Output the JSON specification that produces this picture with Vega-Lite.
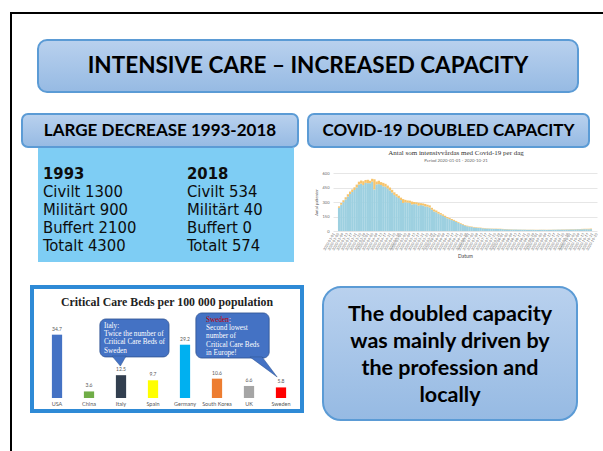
{
  "$schema": "https://vega.github.io/schema/vega-lite/v6.json",
  "padding": {"left": 10, "top": 12, "right": 0, "bottom": 0},
  "background": "white",
  "config": {
    "view": {"stroke": null},
    "concat": {"spacing": 0},
    "font": "Lato"
  },
  "resolve": {"scale": {"x": "independent", "y": "independent", "color": "independent"}},
  "vconcat": [
    {"width": 600, "height": 2, "view": {"fill": "#000000"}, "data": {"values": []}, "mark": "text"},
    {
      "bounds": "flush",
      "resolve": {"scale": {"x": "independent", "y": "independent", "color": "independent"}},
      "hconcat": [
        {"width": 2, "height": 440, "view": {"fill": "#000000"}, "data": {"values": []}, "mark": "text"},
        {
          "resolve": {"scale": {"x": "independent", "y": "independent", "color": "independent"}},
          "vconcat": [
            {"width": 1, "height": 25, "data": {"values": []}, "mark": "text"},
            {
              "bounds": "flush",
              "resolve": {"scale": {"x": "independent", "y": "independent", "color": "independent"}},
              "hconcat": [
                {"width": 26, "height": 1, "data": {"values": []}, "mark": "text"},
                {
                  "width": 540, "height": 52,
                  "data": {"values": [{"t": "INTENSIVE CARE – INCREASED CAPACITY"}]},
                  "layer": [
                    {"mark": {"type": "rect", "cornerRadius": 9, "stroke": "#5b9bd5", "strokeWidth": 2,
                      "fill": {"gradient": "linear", "x1": 0, "y1": 0, "x2": 0, "y2": 1, "stops": [{"offset": 0, "color": "#b9d1ee"}, {"offset": 1, "color": "#96bae3"}]}},
                     "encoding": {"x": {"value": 0}, "x2": {"value": "width"}, "y": {"value": 0}, "y2": {"value": "height"}}},
                    {"mark": {"type": "text", "font": "Lato", "fontWeight": "bold", "fontSize": 22.5, "color": "#000000", "align": "center", "baseline": "middle"},
                     "encoding": {"text": {"field": "t"},
                       "x": {"datum": 0, "type": "quantitative", "scale": {"domain": [-1, 1]}, "axis": null},
                       "y": {"datum": 0, "type": "quantitative", "scale": {"domain": [-1, 1]}, "axis": null}}}
                  ]
                }
              ]
            },
            {"width": 1, "height": 20, "data": {"values": []}, "mark": "text"},
            {
              "bounds": "flush",
              "resolve": {"scale": {"x": "independent", "y": "independent", "color": "independent"}},
              "hconcat": [
                {"width": 10, "height": 1, "data": {"values": []}, "mark": "text"},
                {
                  "width": 276, "height": 33,
                  "data": {"values": [{"t": "LARGE DECREASE 1993-2018"}]},
                  "layer": [
                    {"mark": {"type": "rect", "cornerRadius": 6, "stroke": "#5b9bd5", "strokeWidth": 2,
                      "fill": {"gradient": "linear", "x1": 0, "y1": 0, "x2": 0, "y2": 1, "stops": [{"offset": 0, "color": "#b9d1ee"}, {"offset": 1, "color": "#96bae3"}]}},
                     "encoding": {"x": {"value": 0}, "x2": {"value": "width"}, "y": {"value": 0}, "y2": {"value": "height"}}},
                    {"mark": {"type": "text", "font": "Lato", "fontWeight": "bold", "fontSize": 17, "color": "#000000", "align": "center", "baseline": "middle"},
                     "encoding": {"text": {"field": "t"},
                       "x": {"datum": 0, "type": "quantitative", "scale": {"domain": [-1, 1]}, "axis": null},
                       "y": {"datum": 0, "type": "quantitative", "scale": {"domain": [-1, 1]}, "axis": null}}}
                  ]
                },
                {"width": 10, "height": 1, "data": {"values": []}, "mark": "text"},
                {
                  "width": 281, "height": 33,
                  "data": {"values": [{"t": "COVID-19 DOUBLED CAPACITY"}]},
                  "layer": [
                    {"mark": {"type": "rect", "cornerRadius": 6, "stroke": "#5b9bd5", "strokeWidth": 2,
                      "fill": {"gradient": "linear", "x1": 0, "y1": 0, "x2": 0, "y2": 1, "stops": [{"offset": 0, "color": "#b9d1ee"}, {"offset": 1, "color": "#96bae3"}]}},
                     "encoding": {"x": {"value": 0}, "x2": {"value": "width"}, "y": {"value": 0}, "y2": {"value": "height"}}},
                    {"mark": {"type": "text", "font": "Lato", "fontWeight": "bold", "fontSize": 17, "color": "#000000", "align": "center", "baseline": "middle"},
                     "encoding": {"text": {"field": "t"},
                       "x": {"datum": 0, "type": "quantitative", "scale": {"domain": [-1, 1]}, "axis": null},
                       "y": {"datum": 0, "type": "quantitative", "scale": {"domain": [-1, 1]}, "axis": null}}}
                  ]
                }
              ]
            },
            {
              "bounds": "flush",
              "resolve": {"scale": {"x": "independent", "y": "independent", "color": "independent"}},
              "hconcat": [
                {"width": 26, "height": 1, "data": {"values": []}, "mark": "text"},
                {
                  "width": 256, "height": 114,
                  "view": {"fill": "#7ecdf4"},
                  "data": {"values": [
                    {"year": "1993", "item": "Civilt", "value": 1300},
                    {"year": "1993", "item": "Militärt", "value": 900},
                    {"year": "1993", "item": "Buffert", "value": 2100},
                    {"year": "1993", "item": "Totalt", "value": 4300},
                    {"year": "2018", "item": "Civilt", "value": 534},
                    {"year": "2018", "item": "Militärt", "value": 40},
                    {"year": "2018", "item": "Buffert", "value": 0},
                    {"year": "2018", "item": "Totalt", "value": 574}
                  ]},
                  "encoding": {
                    "x": {"field": "year", "type": "nominal", "scale": {"type": "point", "domain": ["1993", "2018"], "range": [5, 149], "padding": 0}, "axis": null}
                  },
                  "layer": [
                    {
                      "transform": [{"calculate": "datum.item + ' ' + datum.value", "as": "label"}],
                      "mark": {"type": "text", "font": "DejaVu Sans Condensed", "fontSize": 16.5, "color": "#0d0d0d", "align": "left", "baseline": "middle"},
                      "encoding": {
                        "y": {"field": "item", "type": "nominal", "scale": {"type": "point", "domain": ["head", "Civilt", "Militärt", "Buffert", "Totalt"], "range": [26, 98], "padding": 0}, "axis": null},
                        "text": {"field": "label"}
                      }
                    },
                    {
                      "transform": [{"filter": "datum.item === 'Civilt'"}],
                      "mark": {"type": "text", "font": "DejaVu Sans Condensed", "fontWeight": "bold", "fontSize": 16.5, "color": "#0d0d0d", "align": "left", "baseline": "middle"},
                      "encoding": {
                        "y": {"datum": "head", "type": "nominal", "scale": {"type": "point", "domain": ["head", "Civilt", "Militärt", "Buffert", "Totalt"], "range": [26, 98], "padding": 0}, "axis": null},
                        "text": {"field": "year"}
                      }
                    }
                  ]
                },
                {"width": 39, "height": 1, "data": {"values": []}, "mark": "text"},
                {
                  "bounds": "flush",
                  "resolve": {"scale": {"x": "independent", "y": "independent", "color": "independent"}},
                  "vconcat": [
                    {"width": 1, "height": 25, "data": {"values": []}, "mark": "text"},
                    {
                      "width": 264, "height": 58,
                      "title": {"text": "Antal som intensivvårdas med Covid-19 per dag", "subtitle": "Period 2020-01-01 - 2020-10-21",
                        "font": "Liberation Serif", "fontSize": 7, "fontWeight": "normal", "color": "#333333",
                        "subtitleFont": "Lato", "subtitleFontSize": 4.3, "subtitleColor": "#666666", "subtitlePadding": 3,
                        "offset": 8, "anchor": "middle", "dx": -9},
                      "data": {"values": [
                        {"d":"2020-03-06","b":240,"o":15},{"d":"2020-03-08","b":272,"o":18},{"d":"2020-03-10","b":298,"o":20},{"d":"2020-03-12","b":327,"o":22},
                        {"d":"2020-03-14","b":356,"o":24},{"d":"2020-03-16","b":383,"o":25},{"d":"2020-03-18","b":404,"o":26},{"d":"2020-03-20","b":424,"o":28},
                        {"d":"2020-03-22","b":450,"o":30},{"d":"2020-03-24","b":480,"o":30},{"d":"2020-03-26","b":490,"o":32},{"d":"2020-03-28","b":475,"o":40},
                        {"d":"2020-03-30","b":498,"o":30},{"d":"2020-04-01","b":495,"o":35},{"d":"2020-04-03","b":495,"o":25},{"d":"2020-04-05","b":510,"o":30},
                        {"d":"2020-04-07","b":430,"o":105},{"d":"2020-04-09","b":482,"o":30},{"d":"2020-04-11","b":485,"o":35},{"d":"2020-04-13","b":476,"o":30},
                        {"d":"2020-04-15","b":463,"o":35},{"d":"2020-04-17","b":458,"o":30},{"d":"2020-04-19","b":440,"o":30},{"d":"2020-04-21","b":420,"o":30},
                        {"d":"2020-04-23","b":398,"o":28},{"d":"2020-04-25","b":374,"o":26},{"d":"2020-04-27","b":357,"o":25},{"d":"2020-04-29","b":341,"o":24},
                        {"d":"2020-05-01","b":320,"o":25},{"d":"2020-05-03","b":290,"o":40},{"d":"2020-05-05","b":297,"o":25},{"d":"2020-05-07","b":294,"o":22},
                        {"d":"2020-05-09","b":292,"o":22},{"d":"2020-05-11","b":275,"o":30},{"d":"2020-05-13","b":278,"o":22},{"d":"2020-05-15","b":277,"o":20},
                        {"d":"2020-05-17","b":262,"o":30},{"d":"2020-05-19","b":268,"o":20},{"d":"2020-05-21","b":265,"o":20},{"d":"2020-05-23","b":255,"o":25},
                        {"d":"2020-05-25","b":252,"o":20},{"d":"2020-05-27","b":243,"o":22},{"d":"2020-05-29","b":220,"o":20},{"d":"2020-05-31","b":202,"o":20},
                        {"d":"2020-06-02","b":194,"o":18},{"d":"2020-06-04","b":180,"o":18},{"d":"2020-06-06","b":169,"o":16},{"d":"2020-06-08","b":157,"o":15},
                        {"d":"2020-06-10","b":144,"o":14},{"d":"2020-06-12","b":132,"o":13},{"d":"2020-06-14","b":123,"o":12},{"d":"2020-06-16","b":113,"o":11},
                        {"d":"2020-06-18","b":105,"o":10},{"d":"2020-06-20","b":95,"o":9},{"d":"2020-06-22","b":84,"o":8},{"d":"2020-06-24","b":73,"o":7},
                        {"d":"2020-06-26","b":65,"o":7},{"d":"2020-06-28","b":56,"o":6},{"d":"2020-06-30","b":49,"o":6},{"d":"2020-07-02","b":45,"o":5},
                        {"d":"2020-07-04","b":41,"o":5},{"d":"2020-07-06","b":37,"o":5},{"d":"2020-07-08","b":35,"o":5},{"d":"2020-07-10","b":32,"o":4},
                        {"d":"2020-07-12","b":31,"o":4},{"d":"2020-07-14","b":28,"o":4},{"d":"2020-07-16","b":26,"o":4},{"d":"2020-07-18","b":25,"o":3},
                        {"d":"2020-07-20","b":24,"o":3},{"d":"2020-07-22","b":23,"o":3},{"d":"2020-07-24","b":22,"o":3},{"d":"2020-07-26","b":22,"o":3},
                        {"d":"2020-07-28","b":21,"o":3},{"d":"2020-07-30","b":21,"o":3},{"d":"2020-08-01","b":19,"o":3},{"d":"2020-08-03","b":18,"o":3},
                        {"d":"2020-08-05","b":17,"o":3},{"d":"2020-08-07","b":16,"o":3},{"d":"2020-08-09","b":15,"o":3},{"d":"2020-08-11","b":15,"o":2},
                        {"d":"2020-08-13","b":15,"o":2},{"d":"2020-08-15","b":14,"o":2},{"d":"2020-08-17","b":14,"o":2},{"d":"2020-08-19","b":13,"o":2},
                        {"d":"2020-08-21","b":13,"o":2},{"d":"2020-08-23","b":12,"o":2},{"d":"2020-08-25","b":12,"o":2},{"d":"2020-08-27","b":12,"o":2},
                        {"d":"2020-08-29","b":12,"o":2},{"d":"2020-08-31","b":11,"o":2},{"d":"2020-09-02","b":11,"o":2},{"d":"2020-09-04","b":12,"o":2},
                        {"d":"2020-09-06","b":12,"o":2},{"d":"2020-09-08","b":12,"o":2},{"d":"2020-09-10","b":11,"o":2},{"d":"2020-09-12","b":12,"o":2},
                        {"d":"2020-09-14","b":12,"o":2},{"d":"2020-09-16","b":13,"o":2},{"d":"2020-09-18","b":13,"o":2},{"d":"2020-09-20","b":14,"o":2},
                        {"d":"2020-09-22","b":14,"o":2},{"d":"2020-09-24","b":14,"o":3},{"d":"2020-09-26","b":14,"o":3},{"d":"2020-09-28","b":15,"o":3},
                        {"d":"2020-09-30","b":15,"o":3},{"d":"2020-10-02","b":16,"o":3},{"d":"2020-10-04","b":16,"o":3},{"d":"2020-10-06","b":17,"o":3},
                        {"d":"2020-10-08","b":18,"o":3},{"d":"2020-10-10","b":18,"o":3},{"d":"2020-10-12","b":18,"o":4},{"d":"2020-10-14","b":19,"o":4},
                        {"d":"2020-10-16","b":19,"o":4},{"d":"2020-10-18","b":19,"o":5},{"d":"2020-10-20","b":19,"o":6}
                      ]},
                      "transform": [{"fold": ["b", "o"], "as": ["s", "v"]}],
                      "mark": {"type": "bar", "width": 2.3},
                      "encoding": {
                        "x": {"field": "d", "type": "temporal",
                          "scale": {"domain": [{"year": 2020, "month": 3, "date": 5}, {"year": 2020, "month": 10, "date": 21}]},
                          "axis": {"title": "Datum", "format": "%Y-%m-%d", "labelAngle": -60, "tickCount": {"interval": "day", "step": 4},
                            "labelOverlap": false, "labelFontSize": 3.6, "labelColor": "#666666", "titleFontSize": 5, "titleColor": "#444444",
                            "titleFontWeight": "normal", "ticks": false, "domain": false, "grid": false, "labelPadding": 2, "titlePadding": 3}},
                        "y": {"field": "v", "type": "quantitative", "stack": "zero", "scale": {"domain": [0, 600], "nice": false},
                          "axis": {"title": "Antal patienter", "values": [0, 150, 300, 450, 600], "labelFontSize": 4, "labelColor": "#666666",
                            "titleFontSize": 4, "titleFontWeight": "normal", "titleColor": "#555555", "ticks": false, "domain": false,
                            "gridColor": "#e6e6e6", "labelPadding": 4, "titlePadding": 4}},
                        "color": {"field": "s", "type": "nominal", "scale": {"domain": ["b", "o"], "range": ["#9dd0e0", "#f7c46c"]}, "legend": null},
                        "order": {"field": "s", "sort": "ascending"}
                      }
                    }
                  ]
                }
              ]
            },
            {"width": 1, "height": 23, "data": {"values": []}, "mark": "text"},
            {
              "bounds": "flush",
              "resolve": {"scale": {"x": "independent", "y": "independent", "color": "independent"}},
              "hconcat": [
                {"width": 20, "height": 1, "data": {"values": []}, "mark": "text"},
                {
                  "width": 270, "height": 124,
                  "view": {"fill": "#ffffff", "stroke": "#2e8ad6", "strokeWidth": 4},
                  "title": {"text": "Critical Care Beds per 100 000 population", "font": "Liberation Serif", "fontSize": 11.8, "fontWeight": "bold",
                    "color": "#222222", "offset": -27, "anchor": "middle", "baseline": "middle"},
                  "layer": [
                    {
                      "data": {"values": [
                        {"country": "USA", "beds": 34.7},
                        {"country": "China", "beds": 3.6},
                        {"country": "Italy", "beds": 12.5},
                        {"country": "Spain", "beds": 9.7},
                        {"country": "Germany", "beds": 29.2},
                        {"country": "South Korea", "beds": 10.6},
                        {"country": "UK", "beds": 6.6},
                        {"country": "Sweden", "beds": 5.8}
                      ]},
                      "encoding": {
                        "x": {"field": "country", "type": "nominal", "sort": null,
                          "scale": {"type": "band", "paddingInner": 0.68, "paddingOuter": 0.559, "align": 0.556},
                          "axis": {"orient": "bottom", "offset": -13, "title": null, "labelAngle": 0, "ticks": false, "domain": false,
                            "labelFontSize": 5.5, "labelColor": "#595959", "labelPadding": 3, "labelFont": "Lato"}},
                        "y": {"field": "beds", "type": "quantitative",
                          "scale": {"domain": [-7.12, 60.82], "nice": false, "zero": false},
                          "axis": {"values": [0, 5, 10, 15, 20, 25, 30, 35, 40], "title": null, "ticks": false, "tickSize": 0, "domain": false,
                            "grid": true, "gridColor": "#e4e4e4", "labelFontSize": 4.5, "labelColor": "#595959", "offset": -9.5, "labelPadding": 2}}
                      },
                      "layer": [
                        {"mark": {"type": "bar"},
                         "encoding": {
                           "y2": {"datum": 0},
                           "color": {"field": "country", "type": "nominal",
                             "scale": {"domain": ["USA", "China", "Italy", "Spain", "Germany", "South Korea", "UK", "Sweden"],
                               "range": ["#4472c4", "#70ad47", "#323f4f", "#ffff00", "#00b0f0", "#ed7d31", "#a5a5a5", "#ff0000"]},
                             "legend": null}}},
                        {"mark": {"type": "text", "dy": -3, "fontSize": 5, "color": "#595959", "font": "Lato", "baseline": "bottom"},
                         "encoding": {"text": {"field": "beds", "type": "quantitative", "format": ".1f"}}}
                      ]
                    },
                    {
                      "encoding": {
                        "x": {"field": "x1", "type": "quantitative", "scale": {"domain": [-0.78125, 7.65625], "nice": false, "zero": false}, "axis": null}
                      },
                      "layer": [
                        {
                          "data": {"values": [
                            {"c": "Italy", "x1": 1.34, "x2": 3.5, "y1": 22.5, "y2": 43.3},
                            {"c": "Sweden", "x1": 4.34, "x2": 6.63, "y1": 21.9, "y2": 46.6}
                          ]},
                          "mark": {"type": "rect", "cornerRadius": 6, "fill": "#4472c4", "stroke": "#2f528f", "strokeWidth": 0.8},
                          "encoding": {
                            "x2": {"field": "x2"},
                            "y": {"field": "y1", "type": "quantitative", "scale": {"domain": [-7.12, 60.82], "nice": false, "zero": false}, "axis": null},
                            "y2": {"field": "y2"}
                          }
                        },
                        {
                          "data": {"values": [
                            {"c": "Italy", "x1": 1.72, "top": 23, "bot": 23},
                            {"c": "Italy", "x1": 1.98, "top": 23, "bot": 17.5},
                            {"c": "Italy", "x1": 2.16, "top": 23, "bot": 23},
                            {"c": "Sweden", "x1": 6.03, "top": 22.5, "bot": 22.5},
                            {"c": "Sweden", "x1": 6.41, "top": 22.5, "bot": 17.6},
                            {"c": "Sweden", "x1": 6.88, "top": 11.5, "bot": 11.5}
                          ]},
                          "mark": {"type": "area", "fill": "#4472c4", "stroke": "#2f528f", "strokeWidth": 0.5},
                          "encoding": {
                            "y": {"field": "top", "type": "quantitative", "scale": {"domain": [-7.12, 60.82], "nice": false, "zero": false}, "axis": null},
                            "y2": {"field": "bot"},
                            "detail": {"field": "c"}
                          }
                        },
                        {
                          "data": {"values": [
                            {"c": "Italy", "x1": 1.47, "y": 41.6, "t": "Italy:\nTwice the number of\nCritical Care Beds of\nSweden"},
                            {"c": "Sweden", "x1": 4.66, "y": 44.9, "t": " \nSecond lowest\nnumber of\nCritical Care Beds\nin Europe!"}
                          ]},
                          "mark": {"type": "text", "font": "Liberation Serif", "fontSize": 7.2, "color": "#ffffff", "align": "left", "baseline": "top", "lineBreak": "\n", "lineHeight": 8.2},
                          "encoding": {
                            "y": {"field": "y", "type": "quantitative", "scale": {"domain": [-7.12, 60.82], "nice": false, "zero": false}, "axis": null},
                            "text": {"field": "t"}
                          }
                        },
                        {
                          "data": {"values": [{"c": "Sweden", "x1": 4.66, "y": 44.9, "t": "Sweden"}]},
                          "mark": {"type": "text", "font": "Liberation Serif", "fontSize": 7.2, "color": "#c00000", "align": "left", "baseline": "top"},
                          "encoding": {
                            "y": {"field": "y", "type": "quantitative", "scale": {"domain": [-7.12, 60.82], "nice": false, "zero": false}, "axis": null},
                            "text": {"field": "t"}
                          }
                        },
                        {
                          "data": {"values": [{"c": "Sweden", "x1": 4.66, "y": 44.9, "t": ":"}]},
                          "mark": {"type": "text", "font": "Liberation Serif", "fontSize": 7.2, "color": "#ffffff", "align": "left", "baseline": "top", "dx": 23},
                          "encoding": {
                            "y": {"field": "y", "type": "quantitative", "scale": {"domain": [-7.12, 60.82], "nice": false, "zero": false}, "axis": null},
                            "text": {"field": "t"}
                          }
                        }
                      ]
                    }
                  ],
                  "resolve": {"scale": {"x": "independent"}, "axis": {"x": "independent"}}
                },
                {"width": 21, "height": 1, "data": {"values": []}, "mark": "text"},
                {
                  "width": 254, "height": 133,
                  "data": {"values": [{"t": "The doubled capacity\nwas mainly driven by\nthe profession and\nlocally"}]},
                  "layer": [
                    {"mark": {"type": "rect", "cornerRadius": 18, "stroke": "#5b9bd5", "strokeWidth": 2,
                      "fill": {"gradient": "linear", "x1": 0, "y1": 0, "x2": 0, "y2": 1, "stops": [{"offset": 0, "color": "#b9d1ee"}, {"offset": 1, "color": "#96bae3"}]}},
                     "encoding": {"x": {"value": 0}, "x2": {"value": "width"}, "y": {"value": 0}, "y2": {"value": "height"}}},
                    {"mark": {"type": "text", "font": "Lato", "fontWeight": "bold", "fontSize": 21.5, "color": "#000000", "align": "center", "baseline": "middle", "lineBreak": "\n", "lineHeight": 27, "dy": -38.5},
                     "encoding": {"text": {"field": "t"},
                       "x": {"datum": 0, "type": "quantitative", "scale": {"domain": [-1, 1]}, "axis": null},
                       "y": {"datum": 0, "type": "quantitative", "scale": {"domain": [-1, 1]}, "axis": null}}}
                  ]
                }
              ]
            }
          ]
        }
      ]
    }
  ]
}
